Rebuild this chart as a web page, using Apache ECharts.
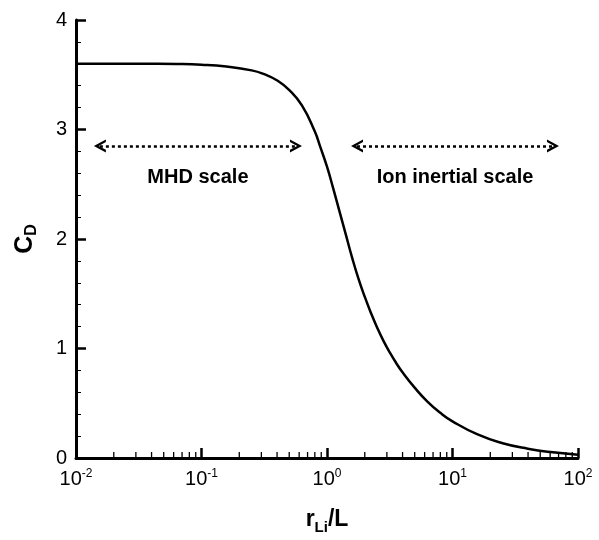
<!DOCTYPE html>
<html>
<head>
<meta charset="utf-8">
<script src="https://cdn.jsdelivr.net/npm/echarts@6/dist/echarts.min.js"></script>
<style>
html,body{margin:0;padding:0;background:#fff;}
#chart{width:599px;height:540px;}
</style>
</head>
<body>
<div id="chart"></div>
<script>
// r_Li/L values (x) and drag coefficient C_D (y)
const rLiOverL = [0.01, 0.0316, 0.0631, 0.1, 0.158, 0.251, 0.316, 0.398, 0.501, 0.631, 0.794, 0.891,
  1.0, 1.122, 1.259, 1.413, 1.585, 1.778, 1.995, 2.239, 2.512, 2.818, 3.162, 3.548, 3.981,
  5.012, 6.31, 7.943, 10, 15.85, 25.12, 39.81, 63.1, 100];
const cdValues = [3.6, 3.6, 3.598, 3.592, 3.575, 3.54, 3.505, 3.45, 3.36, 3.22, 2.99, 2.83,
  2.66, 2.46, 2.25, 2.04, 1.83, 1.64, 1.475, 1.325, 1.19, 1.07, 0.965, 0.87, 0.785,
  0.64, 0.515, 0.415, 0.335, 0.215, 0.135, 0.085, 0.052, 0.03];
const yTicks = [0, 1, 2, 3, 4];
const xMinorTicks = [0.02,0.03,0.04,0.05,0.06,0.07,0.08,0.09,
  0.2,0.3,0.4,0.5,0.6,0.7,0.8,0.9, 2,3,4,5,6,7,8,9, 20,30,40,50,60,70,80,90];
const annotations = ['MHD scale', 'Ion inertial scale'];
const arrowRanges = [[0.0155, 0.566], [1.734, 63.2]];
const arrowLevel = 2.85;

const FONT = 'Liberation Sans, Arial, Helvetica, sans-serif';
const chart = echarts.init(document.getElementById('chart'), null, {renderer: 'canvas'});
const curve = rLiOverL.map((x, i) => [x, cdValues[i]]);
const arrowHead = 'path://M5,0 L10,10 L8,10 L5,4 L2,10 L0,10 Z';

chart.setOption({
  animation: false,
  backgroundColor: '#fff',
  grid: {left: 76, right: 21, top: 20, bottom: 64},
  xAxis: {
    type: 'log', logBase: 10, min: 0.01, max: 100,
    name: '{a|r}{b|Li}{a|/L}', nameLocation: 'middle', nameGap: 46,
    nameTextStyle: {
      rich: {
        a: {fontFamily: FONT, fontWeight: 'bold', fontSize: 23, color: '#000'},
        b: {fontFamily: FONT, fontWeight: 'bold', fontSize: 15, color: '#000', padding: [16, 0, 0, 0], verticalAlign: 'bottom'}
      }
    },
    axisLine: {onZero: false, lineStyle: {color: '#000', width: 3}},
    axisTick: {inside: true, length: 10, lineStyle: {color: '#000', width: 2.5}},
    minorTick: {show: false},
    splitLine: {show: false},
    axisLabel: {
      margin: 10,
      formatter: v => '{n|10}{s|' + Math.round(Math.log10(v)) + '}',
      rich: {
        n: {fontFamily: FONT, fontSize: 20, color: '#000'},
        s: {fontFamily: FONT, fontSize: 12, color: '#000', padding: [0, 0, 10, 0], verticalAlign: 'bottom'}
      }
    }
  },
  yAxis: {
    type: 'value', min: 0, max: 4, interval: 1,
    name: '{a|C}{b|D}', nameLocation: 'middle', nameGap: 36, nameRotate: 90,
    nameTextStyle: {
      rich: {
        a: {fontFamily: FONT, fontWeight: 'bold', fontSize: 25, color: '#000'},
        b: {fontFamily: FONT, fontWeight: 'bold', fontSize: 16, color: '#000', padding: [14, 0, 0, 0], verticalAlign: 'bottom'}
      }
    },
    axisLine: {show: true, onZero: false, lineStyle: {color: '#000', width: 3}},
    axisTick: {show: true, inside: true, length: 10, lineStyle: {color: '#000', width: 2.5}},
    minorTick: {show: true, splitNumber: 5, length: 5, lineStyle: {color: '#000', width: 1}},
    splitLine: {show: false},
    axisLabel: {margin: 9, fontFamily: FONT, fontSize: 20, color: '#000',
      formatter: v => yTicks.includes(v) ? String(v) : ''}
  },
  series: [
    {
      type: 'line', data: curve, smooth: 0.5, showSymbol: false,
      lineStyle: {color: '#000', width: 2.5}, silent: true, z: 3,
      markLine: {
        silent: true, symbol: [arrowHead, arrowHead], symbolSize: [13, 12],
        label: {show: false},
        lineStyle: {color: '#000', width: 2.5, type: [3, 3]},
        data: arrowRanges.map(r => [{coord: [r[0], arrowLevel]}, {coord: [r[1], arrowLevel]}])
      }
    },
    {
      type: 'custom', silent: true, z: 4,
      data: xMinorTicks.map(x => [x, 0]),
      renderItem: (params, api) => {
        const p = api.coord([api.value(0), 0]);
        return {type: 'line', shape: {x1: p[0], y1: p[1], x2: p[0], y2: p[1] - 6},
          style: {stroke: '#000', lineWidth: 1.3}};
      }
    }
  ]
});

function placeText() {
  const a = chart.convertToPixel({gridIndex: 0}, [Math.sqrt(arrowRanges[0][0] * arrowRanges[0][1]), arrowLevel]);
  const b = chart.convertToPixel({gridIndex: 0}, [Math.sqrt(arrowRanges[1][0] * arrowRanges[1][1]), arrowLevel]);
  chart.setOption({
    graphic: annotations.map((t, i) => ({
      type: 'text', silent: true,
      x: (i === 0 ? a : b)[0], y: (i === 0 ? a : b)[1] + 32,
      style: {text: t, fontFamily: FONT, fontWeight: 'bold', fontSize: 20, fill: '#000',
        textAlign: 'center', textVerticalAlign: 'middle'}
    }))
  });
}
placeText();
</script>
</body>
</html>
